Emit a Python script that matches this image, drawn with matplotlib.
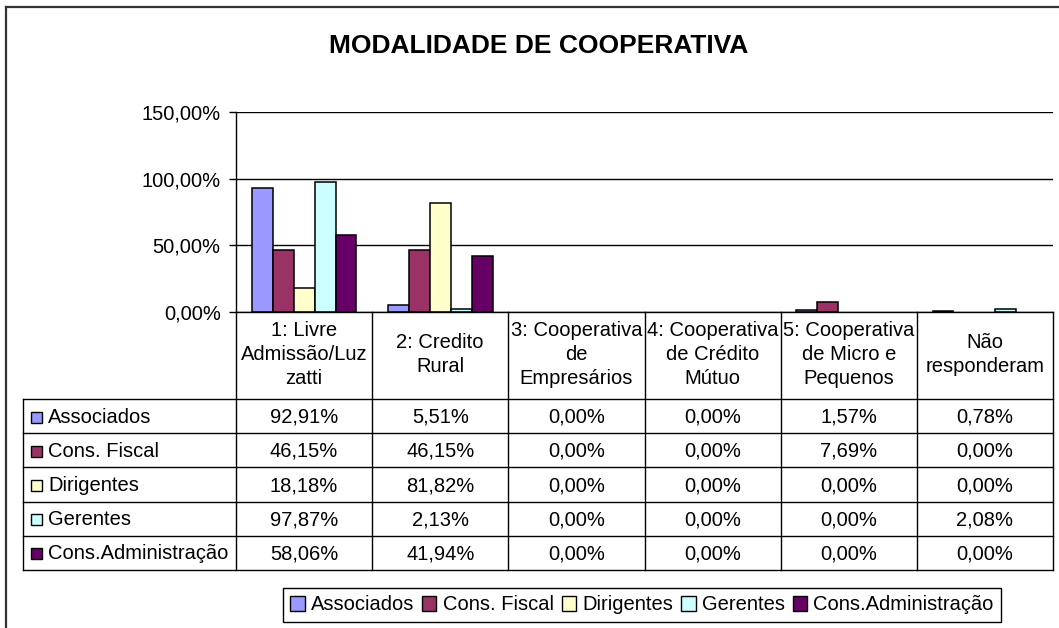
import matplotlib
matplotlib.use("Agg")
import matplotlib.pyplot as plt
from matplotlib.transforms import blended_transform_factory
from matplotlib.lines import Line2D
from matplotlib.patches import Patch, Rectangle
from matplotlib.ticker import FuncFormatter

plt.rcParams['font.family'] = ['Liberation Sans', 'DejaVu Sans']

# ---------------- data ----------------
title = "MODALIDADE DE COOPERATIVA"
categories = ["1: Livre\nAdmissão/Luz\nzatti", "2: Credito\nRural",
              "3: Cooperativa\nde\nEmpresários", "4: Cooperativa\nde Crédito\nMútuo",
              "5: Cooperativa\nde Micro e\nPequenos", "Não\nresponderam"]
series_names = ["Associados", "Cons. Fiscal", "Dirigentes", "Gerentes", "Cons.Administração"]
associados = [92.91, 5.51, 0.00, 0.00, 1.57, 0.78]
cons_fiscal = [46.15, 46.15, 0.00, 0.00, 7.69, 0.00]
dirigentes = [18.18, 81.82, 0.00, 0.00, 0.00, 0.00]
gerentes = [97.87, 2.13, 0.00, 0.00, 0.00, 2.08]
cons_admin = [58.06, 41.94, 0.00, 0.00, 0.00, 0.00]
series_values = [associados, cons_fiscal, dirigentes, gerentes, cons_admin]
colors = ["#9999FF", "#993366", "#FFFFCC", "#CCFFFF", "#660066"]
y_ticks = [0, 50, 100, 150]

# ---------------- layout helpers ----------------
W, H = 1059, 628
DPI = 100
fig = plt.figure(figsize=(W / DPI, H / DPI), dpi=DPI)
fig.patch.set_facecolor("white")

def fx(px):
    return px / W

def fy(py):
    return 1 - py / H

FS = 14.5

# plot area
L, R, T, B = 236, 1053, 112, 312
ax = fig.add_axes([fx(L), fy(B), fx(R) - fx(L), fy(T) - fy(B)])
ncat = len(categories)
nser = len(series_values)
bw = 1.0 / (nser + 1.5)
for i, (vals, col, name) in enumerate(zip(series_values, colors, series_names)):
    xs = [c + 0.75 * bw + (i + 0.5) * bw for c in range(ncat)]
    lws = [1.1 if v > 0 else 0 for v in vals]
    ax.bar(xs, vals, width=bw, color=col, edgecolor="black", linewidth=lws,
           label=name, zorder=3)

ax.set_xlim(0, ncat)
ax.set_ylim(0, 150)
ax.set_yticks(y_ticks)
ax.yaxis.set_major_formatter(FuncFormatter(lambda v, p: f"{v:.2f}%".replace(".", ",")))
ax.tick_params(axis="y", length=5, width=1, color="black", labelsize=FS, pad=6)
ax.set_xticks([])
ax.grid(axis="y", color="black", linewidth=1, zorder=0)
for s in ["top", "right"]:
    ax.spines[s].set_visible(False)
ax.spines["left"].set_color("black")
ax.spines["bottom"].set_color("black")
ax.spines["left"].set_linewidth(1)
ax.spines["bottom"].set_linewidth(1)
ax.spines["bottom"].set_zorder(4)

# ---------------- table ----------------
tr = blended_transform_factory(ax.transData, fig.transFigure)
px_per_cat = (R - L) / ncat
x_left_tab = (23 - L) / px_per_cat   # left edge of label column in data units

def hline(x0, x1, py):
    ax.add_line(Line2D([x0, x1], [fy(py), fy(py)], transform=tr, color="black",
                       linewidth=1, clip_on=False))

def vline(x, py0, py1):
    ax.add_line(Line2D([x, x], [fy(py0), fy(py1)], transform=tr, color="black",
                       linewidth=1, clip_on=False))

head_top, head_bot = 312, 399
row_h = 34.2
row_lines = [head_bot + row_h * k for k in range(nser + 1)]

for c in range(ncat + 1):
    vline(c, head_top, row_lines[-1])
vline(x_left_tab, head_bot, row_lines[-1])
for py in row_lines:
    hline(x_left_tab, ncat, py)

# header labels
for c, lab in enumerate(categories):
    ax.text(c + 0.5, fy((head_top + head_bot) / 2 - 1), lab, transform=tr,
            ha="center", va="center", fontsize=FS, linespacing=1.36, clip_on=False)

# data rows
for r, (vals, col, name) in enumerate(zip(series_values, colors, series_names)):
    yc = (row_lines[r] + row_lines[r + 1]) / 2 + 1
    ax.add_patch(Rectangle((x_left_tab + 8 / px_per_cat, fy(yc + 5.5)), 11 / px_per_cat,
                           11 / H, transform=tr, facecolor=col, edgecolor="black",
                           linewidth=1, clip_on=False))
    ax.text(x_left_tab + 25 / px_per_cat, fy(yc), name, transform=tr, ha="left",
            va="center", fontsize=FS, clip_on=False)
    for c, v in enumerate(vals):
        ax.text(c + 0.5, fy(yc), f"{v:.2f}%".replace(".", ","), transform=tr,
                ha="center", va="center", fontsize=FS, clip_on=False)

# ---------------- title ----------------
fig.text(fx(539), fy(46), title, ha="center", va="center", fontsize=19,
         fontweight="bold")

# ---------------- legend ----------------
handles = [Patch(facecolor=c, edgecolor="black", linewidth=1) for c in colors]
leg = fig.legend(handles, series_names, loc="center", bbox_to_anchor=(fx(642), fy(605)),
                 ncol=nser, fontsize=FS, handlelength=0.7, handleheight=0.7,
                 handletextpad=0.3, columnspacing=0.42, borderpad=0.35,
                 fancybox=False, framealpha=1, edgecolor="black", borderaxespad=0)
leg.get_frame().set_linewidth(1)

# ---------------- outer chart border ----------------
fig.add_artist(Line2D([fx(6), fx(6)], [fy(7), 0], color="#333333", linewidth=1.6))
fig.add_artist(Line2D([fx(6), 1], [fy(7), fy(7)], color="#333333", linewidth=1.6))

fig.savefig("out.png", dpi=DPI, facecolor="white")
